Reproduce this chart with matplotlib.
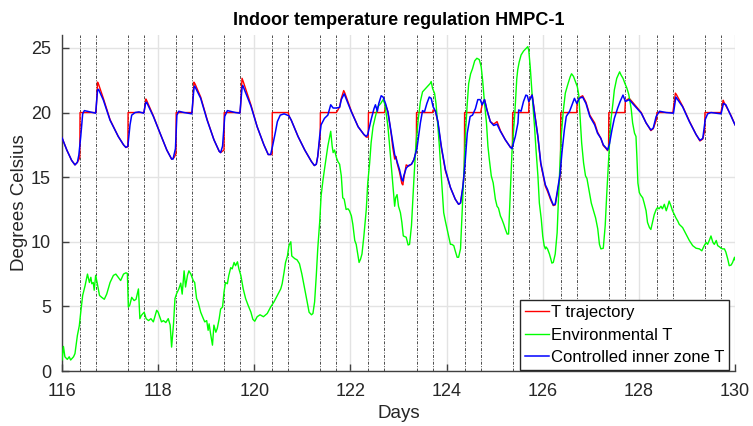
import matplotlib
matplotlib.use("Agg")
import matplotlib.pyplot as plt

plt.rcParams['font.family'] = ['Liberation Sans', 'DejaVu Sans']

# ---------------- data ----------------
title = "Indoor temperature regulation HMPC-1"
x_label = "Days"
y_label = "Degrees Celsius"
x_ticks = [116, 118, 120, 122, 124, 126, 128, 130]
y_ticks = [0, 5, 10, 15, 20, 25]

# occupied schedule (dashed vertical lines): each day from 9:00 to 17:00
schedule_days = [116, 117, 118, 119, 120, 121, 122, 123, 124, 125, 126, 127, 128, 129]
schedule_on_h = 9
schedule_off_h = 17

# T trajectory (red)
traj_t = [116.00, 116.10, 116.20, 116.27, 116.32, 116.37, 116.375, 116.708, 116.74, 116.76, 116.86,
          117.00, 117.17, 117.28, 117.33, 117.37, 117.375, 117.708, 117.745, 117.76, 117.90,
          118.04, 118.18, 118.28, 118.33, 118.37, 118.375, 118.708, 118.745, 118.77, 118.885,
          119.02, 119.16, 119.27, 119.30, 119.37, 119.375, 119.708, 119.745, 119.77, 119.93,
          120.06, 120.20, 120.29, 120.37, 120.375, 120.708, 120.72, 120.77, 120.91,
          121.05, 121.19, 121.25, 121.29, 121.32, 121.37, 121.375, 121.708, 121.74, 121.775, 121.81, 121.86, 121.88,
          122.02, 122.16, 122.28, 122.33, 122.37, 122.375, 122.708, 122.73, 122.78, 122.85, 122.88, 122.92, 122.95, 122.97,
          123.02, 123.07, 123.09, 123.11, 123.16, 123.21, 123.27, 123.32, 123.37, 123.375, 123.708, 123.72, 123.77, 123.82, 123.89, 123.975,
          124.08, 124.18, 124.25, 124.29, 124.34, 124.37, 124.375, 124.708, 124.74, 124.79, 124.84, 124.91, 124.98,
          125.05, 125.12, 125.22, 125.33, 125.36, 125.37, 125.375, 125.708, 125.715, 125.78, 125.83, 125.90, 125.96,
          126.055, 126.10, 126.17, 126.22, 126.26, 126.31, 126.36, 126.37, 126.375, 126.708, 126.715, 126.76, 126.83, 126.90, 126.98,
          127.08, 127.14, 127.21, 127.26, 127.32, 127.35, 127.37, 127.375, 127.708, 127.72, 127.80, 127.87,
          128.05, 128.15, 128.25, 128.30, 128.37, 128.375, 128.708, 128.76, 128.78, 128.91,
          129.05, 129.19, 129.27, 129.33, 129.37, 129.375, 129.708, 129.755, 129.77, 129.92, 130.00]
traj_v = [18.05, 17.10, 16.30, 15.95, 16.15, 16.50, 20.0, 20.0, 22.35, 22.20, 21.10,
          19.45, 18.15, 17.50, 17.30, 17.35, 20.0, 20.0, 21.05, 20.95, 19.75,
          18.40, 17.10, 16.40, 16.50, 16.80, 20.0, 20.0, 22.35, 22.20, 21.20,
          19.45, 17.90, 17.00, 16.90, 17.10, 20.0, 20.0, 22.65, 22.40, 20.60,
          18.90, 17.50, 16.75, 16.75, 20.0, 20.0, 19.75, 19.40, 18.15,
          17.10, 16.20, 15.90, 16.00, 16.60, 18.20, 20.0, 20.0, 20.20, 20.45, 21.10, 21.70, 21.55,
          20.10, 18.90, 18.30, 18.10, 18.10, 20.0, 20.0, 20.60, 20.05, 18.30, 17.30, 16.40, 16.60, 16.10,
          15.40, 14.50, 14.40, 14.90, 15.95, 15.85, 16.00, 16.35, 17.00, 20.0, 20.0, 20.20, 20.10, 19.20, 17.30, 15.50,
          14.20, 13.30, 12.90, 13.00, 14.20, 15.40, 20.0, 20.0, 20.60, 21.00, 20.20, 19.30, 19.10,
          19.30, 18.60, 17.90, 17.30, 17.30, 17.50, 20.0, 20.0, 20.90, 21.40, 20.00, 18.10, 16.00,
          14.30, 13.90, 13.20, 12.80, 12.85, 13.90, 15.00, 15.60, 20.0, 20.0, 20.70, 21.15, 21.30, 20.80, 19.80,
          19.20, 18.50, 18.00, 17.45, 17.20, 17.05, 17.30, 20.0, 20.0, 20.90, 21.10, 20.80,
          20.00, 19.20, 18.60, 18.75, 19.50, 20.0, 20.0, 21.50, 21.40, 20.50,
          19.35, 18.30, 17.80, 17.95, 18.60, 20.0, 20.0, 20.95, 20.80, 19.75, 19.05]

# Environmental T (green)
env_t = [116.00, 116.03, 116.06, 116.11, 116.15, 116.18, 116.24, 116.27, 116.32, 116.36, 116.39, 116.43, 116.48,
         116.53, 116.57, 116.60, 116.62, 116.65, 116.67, 116.70, 116.735, 116.78, 116.825, 116.88, 116.93,
         117.00, 117.07, 117.12, 117.17, 117.22, 117.28, 117.33, 117.36, 117.38, 117.41, 117.45, 117.50, 117.54,
         117.59, 117.62, 117.65, 117.71, 117.75, 117.80, 117.85, 117.90, 117.97,
         118.00, 118.07, 118.11, 118.16, 118.21, 118.25, 118.28, 118.32, 118.35, 118.38, 118.43, 118.47, 118.50,
         118.54, 118.57, 118.61, 118.64, 118.68, 118.73, 118.76, 118.80, 118.83, 118.885, 118.94, 118.97,
         119.01, 119.04, 119.06, 119.09, 119.13, 119.16, 119.20, 119.23, 119.27, 119.30, 119.34, 119.37, 119.40,
         119.44, 119.47, 119.51, 119.54, 119.58, 119.61, 119.65, 119.68, 119.72, 119.77, 119.82, 119.87, 119.93, 119.97,
         120.01, 120.06, 120.12, 120.19, 120.27, 120.34, 120.41, 120.48, 120.55, 120.58, 120.62, 120.65, 120.69,
         120.72, 120.76, 120.78, 120.84, 120.89, 120.94, 120.99,
         121.05, 121.10, 121.14, 121.19, 121.22, 121.255, 121.29, 121.32, 121.36, 121.39, 121.43, 121.46, 121.50,
         121.53, 121.57, 121.59, 121.62, 121.64, 121.67, 121.71, 121.74, 121.775, 121.81, 121.84, 121.87, 121.91,
         121.95, 121.98, 122.02, 122.05, 122.09, 122.12, 122.16, 122.18, 122.21, 122.24, 122.28, 122.33, 122.36,
         122.40, 122.43, 122.47, 122.52, 122.57, 122.63, 122.68, 122.71, 122.75, 122.78, 122.81, 122.85, 122.88,
         122.92, 122.94, 122.97, 123.00, 123.04, 123.07, 123.10, 123.16, 123.20, 123.23, 123.27, 123.32, 123.36,
         123.41, 123.455, 123.50, 123.56, 123.61, 123.66, 123.68, 123.71, 123.75, 123.78, 123.82, 123.85, 123.89,
         123.94, 123.975, 124.01, 124.04, 124.08, 124.11, 124.15, 124.18, 124.22, 124.25, 124.29, 124.32, 124.36,
         124.39, 124.43, 124.46, 124.50, 124.54, 124.585, 124.63, 124.68, 124.72, 124.75, 124.79, 124.83, 124.86,
         124.89, 124.93, 124.97, 125.015, 125.05, 125.08, 125.12, 125.15, 125.19, 125.22, 125.26, 125.29, 125.33,
         125.36, 125.42, 125.46, 125.48, 125.51, 125.55, 125.60, 125.65, 125.69, 125.71, 125.74, 125.78, 125.83,
         125.86, 125.90, 125.93, 125.97, 126.00, 126.03, 126.055, 126.07, 126.10, 126.14, 126.17, 126.19, 126.22,
         126.26, 126.30, 126.33, 126.36, 126.39, 126.43, 126.47, 126.52, 126.57, 126.60, 126.64, 126.68, 126.72,
         126.75, 126.78, 126.81, 126.85, 126.89, 126.92, 126.96, 127.01, 127.05, 127.10, 127.145, 127.18, 127.21,
         127.26, 127.30, 127.33, 127.36, 127.39, 127.42, 127.46, 127.49, 127.54, 127.60, 127.63, 127.67, 127.71,
         127.75, 127.79, 127.84, 127.87, 127.91, 127.94, 127.96, 127.98, 128.01, 128.04, 128.08, 128.11, 128.15,
         128.18, 128.22, 128.25, 128.29, 128.32, 128.36, 128.39, 128.42, 128.46, 128.49, 128.53, 128.57, 128.60,
         128.63, 128.67, 128.70, 128.74, 128.77, 128.81, 128.84, 128.91, 128.98, 129.05, 129.12, 129.19, 129.26,
         129.31, 129.36, 129.40, 129.43, 129.47, 129.50, 129.54, 129.57, 129.61, 129.64, 129.68, 129.71, 129.74,
         129.78, 129.81, 129.85, 129.88, 129.92, 129.95, 129.99, 130.00]
env_v = [0.85, 1.90, 1.10, 0.90, 1.10, 0.85, 1.10, 1.35, 2.75, 3.50, 4.55, 5.85, 6.60,
         7.50, 6.85, 7.25, 6.75, 6.85, 6.25, 7.40, 6.75, 5.85, 5.70, 5.55, 5.95,
         6.85, 7.40, 7.50, 7.25, 7.00, 7.50, 7.60, 7.55, 4.95, 5.10, 5.70, 5.45, 5.55,
         6.35, 4.05, 4.30, 4.55, 4.05, 3.90, 4.05, 3.80, 4.70,
         4.55, 3.80, 3.90, 3.75, 4.05, 3.55, 1.85, 3.65, 5.60, 5.95, 6.35, 6.80, 5.95,
         7.75, 6.50, 7.40, 7.75, 7.50, 7.00, 6.85, 5.60, 5.35, 4.55, 4.05, 3.80,
         3.90, 3.15, 3.65, 2.90, 2.00, 3.55, 3.00, 3.30, 4.05, 4.80, 4.95, 6.10, 6.85,
         6.75, 7.40, 8.00, 7.90, 8.40, 8.15, 8.45, 7.90, 7.40, 6.35, 5.60, 5.10, 4.55, 4.00,
         3.85, 4.20, 4.35, 4.20, 4.45, 4.95, 5.35, 5.85, 6.35, 6.75, 7.65, 8.40, 8.90,
         9.70, 10.00, 8.90, 8.70, 8.60, 8.30, 7.50,
         6.35, 5.35, 4.55, 4.35, 4.45, 5.35, 7.40, 9.45, 11.50, 13.55, 14.80, 15.60, 16.60,
         17.40, 18.15, 18.55, 17.40, 16.90, 17.10, 16.50, 16.20, 16.00, 15.10, 13.40, 13.30, 12.50,
         12.55, 12.40, 12.00, 11.35, 10.10, 9.80, 8.90, 8.40, 8.65, 9.05, 10.45, 12.50, 14.55,
         16.10, 17.65, 18.90, 19.70, 20.45, 20.70, 21.00, 20.70, 19.80, 18.90, 17.65, 15.85, 14.55,
         12.75, 13.40, 13.65, 12.75, 12.25, 11.50, 10.45, 10.35, 9.75, 9.80, 11.25, 14.80, 17.40,
         19.45, 20.85, 21.60, 21.85, 22.05, 22.25, 22.40, 21.85, 21.50, 20.70, 18.90, 17.40, 15.10,
         12.25, 11.60, 11.00, 10.45, 9.80, 9.80, 9.70, 9.30, 8.80, 8.80, 9.45, 12.00, 15.35,
         18.15, 20.70, 22.25, 23.00, 23.40, 24.00, 24.20, 24.10, 23.55, 22.50, 20.70, 19.20, 17.40,
         16.35, 15.10, 14.55, 13.30, 12.75, 12.60, 12.00, 11.75, 11.35, 11.00, 10.60, 10.60, 14.30,
         16.90, 19.95, 22.60, 23.30, 23.90, 24.45, 24.75, 24.95, 25.10, 24.80, 23.55, 21.35, 18.90,
         17.15, 15.10, 13.00, 11.75, 10.45, 9.70, 9.45, 9.60, 9.45, 9.05, 8.65, 8.35, 8.40,
         9.05, 10.70, 13.55, 16.10, 18.40, 20.20, 21.50, 22.15, 22.75, 23.00, 22.80, 22.40, 22.00,
         21.35, 19.45, 17.65, 16.10, 15.10, 14.90, 14.05, 13.00, 12.50, 11.85, 11.00, 9.80, 9.45,
         9.50, 11.25, 13.55, 15.60, 17.65, 19.45, 20.70, 21.75, 22.65, 23.15, 22.90, 22.65, 22.25,
         21.90, 21.40, 20.30, 19.20, 18.40, 18.15, 16.50, 14.55, 13.80, 13.60, 13.40, 13.00, 12.40,
         11.50, 11.10, 10.95, 11.60, 12.10, 12.50, 12.65, 12.55, 12.75, 12.55, 12.90, 12.40, 12.75,
         13.15, 12.75, 12.40, 12.10, 11.85, 11.60, 11.35, 11.10, 10.60, 10.10, 9.70, 9.50, 9.45,
         9.30, 9.70, 9.95, 9.80, 10.15, 10.45, 9.95, 9.80, 10.10, 9.70, 9.60, 9.50, 9.45,
         9.45, 9.20, 8.65, 8.15, 8.20, 8.40, 8.80, 8.60]

# Controlled inner zone T (blue)
zone_t = [116.00, 116.10, 116.20, 116.27, 116.32, 116.35, 116.39, 116.43, 116.465, 116.58, 116.70, 116.74, 116.76, 116.86,
          117.00, 117.17, 117.28, 117.33, 117.37, 117.415, 117.45, 117.52, 117.60, 117.70, 117.74, 117.76, 117.90,
          118.04, 118.18, 118.28, 118.31, 118.36, 118.39, 118.43, 118.54, 118.70, 118.745, 118.76, 118.885,
          119.02, 119.16, 119.27, 119.30, 119.34, 119.385, 119.44, 119.61, 119.70, 119.745, 119.76, 119.93,
          120.06, 120.20, 120.29, 120.34, 120.38, 120.44, 120.48, 120.54, 120.62, 120.72, 120.77, 120.91,
          121.05, 121.19, 121.25, 121.29, 121.32, 121.36, 121.39, 121.46, 121.53, 121.59, 121.64, 121.71, 121.775, 121.81, 121.87,
          122.02, 122.16, 122.28, 122.33, 122.36, 122.43, 122.49, 122.52, 122.56, 122.59, 122.64, 122.68, 122.73, 122.78, 122.85, 122.92, 122.97,
          123.02, 123.07, 123.09, 123.11, 123.16, 123.21, 123.27, 123.32, 123.385, 123.455, 123.50, 123.54, 123.59, 123.64, 123.68, 123.72,
          123.77, 123.82, 123.89, 123.975, 124.08, 124.18, 124.25, 124.29, 124.34, 124.385, 124.43, 124.49, 124.54, 124.60, 124.65,
          124.70, 124.74, 124.79, 124.84, 124.91, 124.98, 125.05, 125.12, 125.22, 125.33, 125.36, 125.43, 125.485, 125.50, 125.55,
          125.60, 125.65, 125.68, 125.71, 125.78, 125.83, 125.90, 125.96, 126.055, 126.10, 126.17, 126.22, 126.26, 126.31, 126.36,
          126.40, 126.45, 126.49, 126.56, 126.62, 126.66, 126.71, 126.76, 126.83, 126.90, 126.98, 127.08, 127.14, 127.21, 127.26,
          127.32, 127.35, 127.39, 127.44, 127.49, 127.56, 127.61, 127.67, 127.72, 127.80, 127.87, 128.05, 128.15, 128.25, 128.30,
          128.36, 128.43, 128.57, 128.72, 128.77, 128.91, 129.05, 129.19, 129.27, 129.33, 129.38, 129.43, 129.50, 129.71, 129.76,
          129.81, 129.92, 130.00]
zone_v = [18.05, 17.10, 16.30, 15.95, 16.15, 16.70, 18.15, 19.90, 20.15, 20.05, 19.95, 21.75, 21.80, 20.97,
          19.40, 18.15, 17.50, 17.30, 17.40, 19.05, 19.80, 20.00, 20.05, 19.95, 20.75, 20.80, 19.70,
          18.40, 17.10, 16.40, 16.40, 17.20, 19.80, 20.10, 20.00, 19.90, 21.90, 22.05, 21.10,
          19.40, 17.90, 17.00, 16.90, 17.40, 19.70, 20.15, 20.00, 19.95, 21.90, 22.10, 20.50,
          18.90, 17.50, 16.75, 16.75, 17.40, 18.50, 19.30, 19.80, 19.90, 19.75, 19.40, 18.15,
          17.10, 16.20, 15.90, 16.00, 16.60, 18.15, 19.05, 19.55, 19.80, 20.60, 20.35, 20.35, 20.40, 21.00, 21.45,
          20.05, 18.90, 18.30, 18.15, 18.30, 19.45, 20.30, 20.60, 20.10, 20.70, 21.30, 21.20, 20.70, 20.05, 18.40, 16.75, 16.20,
          15.60, 14.80, 14.70, 15.10, 15.70, 15.90, 16.00, 16.35, 17.25, 19.20, 20.15, 20.05, 20.70, 21.20, 21.10, 20.45,
          20.10, 19.30, 17.40, 15.60, 14.20, 13.30, 12.90, 13.00, 14.30, 16.10, 18.40, 19.70, 19.80, 20.30, 21.00,
          21.00, 20.60, 21.00, 20.20, 19.30, 19.00, 19.10, 18.55, 17.90, 17.30, 17.20, 18.15, 19.20, 20.20, 20.10,
          20.85, 21.35, 21.30, 20.85, 21.35, 19.95, 18.15, 16.10, 14.40, 14.05, 13.30, 12.85, 12.90, 14.05, 15.20,
          16.90, 18.65, 19.70, 20.10, 20.70, 21.10, 20.70, 21.10, 21.20, 20.70, 19.70, 19.05, 18.40, 18.00, 17.50,
          17.25, 17.10, 17.60, 18.65, 19.55, 20.35, 20.85, 21.35, 20.85, 21.00, 20.70, 19.95, 19.20, 18.65, 18.80,
          19.70, 20.10, 20.00, 19.95, 21.20, 20.45, 19.30, 18.30, 17.85, 18.00, 19.45, 19.90, 20.00, 19.90, 20.70,
          20.60, 19.70, 19.05]

legend_labels = ["T trajectory", "Environmental T", "Controlled inner zone T"]
colors = ["#ff0000", "#00ff00", "#0000ff"]

# ---------------- figure ----------------
fig = plt.figure(figsize=(7.53, 4.26), dpi=100)
ax = fig.add_axes([62 / 753, 1 - 371 / 426, (735 - 62) / 753, (371 - 35) / 426])

ax.set_xlim(116, 130)
ax.set_ylim(0, 26)
ax.set_xticks(x_ticks)
ax.set_yticks(y_ticks)
ax.grid(True, color="#e3e3e3", linewidth=1.0, zorder=0)
ax.set_axisbelow(True)

for d in schedule_days:
    for h in (schedule_on_h, schedule_off_h):
        ax.axvline(d + h / 24, color="0.3", linestyle=(0, (3, 1.5, 1, 1.5)), linewidth=0.7, zorder=1)

ax.plot(traj_t, traj_v, color=colors[0], linewidth=1.0, label=legend_labels[0], zorder=3)
ax.plot(env_t, env_v, color=colors[1], linewidth=1.0, label=legend_labels[1], zorder=3)
ax.plot(zone_t, zone_v, color=colors[2], linewidth=1.1, label=legend_labels[2], zorder=4)

for s in ("top", "right"):
    ax.spines[s].set_visible(False)
for s in ("left", "bottom"):
    ax.spines[s].set_color("0.25")
    ax.spines[s].set_linewidth(1.0)
ax.tick_params(direction="in", length=5, width=1, colors="0.25", labelcolor="0.15", labelsize=13)
ax.tick_params(axis="x", pad=9)
ax.tick_params(axis="y", pad=8)

ax.set_title(title, fontsize=13, fontweight="bold", color="black", pad=7)
ax.set_xlabel(x_label, fontsize=13.5, color="0.15", labelpad=3)
ax.set_ylabel(y_label, fontsize=13.5, color="0.15", labelpad=2)

leg = ax.legend(loc="lower right", bbox_to_anchor=(0.993, 0.0), fontsize=12, frameon=True, fancybox=False,
                framealpha=1, edgecolor="0.15", handlelength=1.4, handletextpad=0.15, borderpad=0.3,
                labelspacing=0.45, borderaxespad=0.05)
leg.get_frame().set_linewidth(1.0)

fig.savefig("out.png", dpi=100)
